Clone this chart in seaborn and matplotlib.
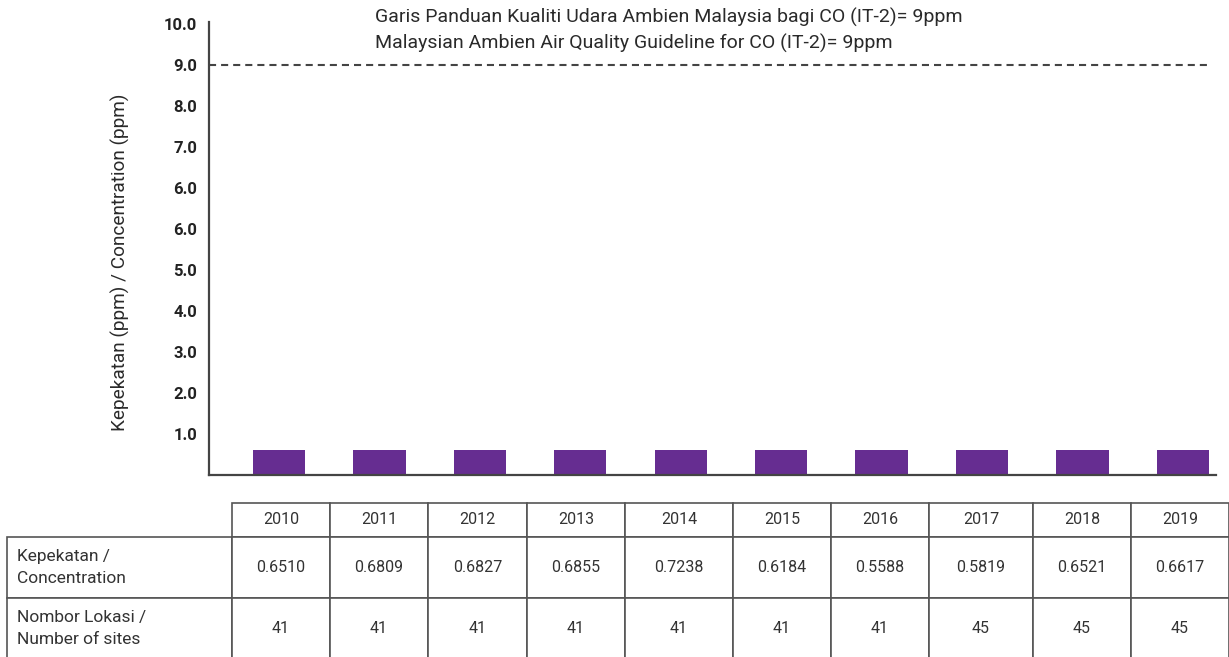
import matplotlib
matplotlib.use("Agg")
import matplotlib.pyplot as plt
import seaborn as sns
import pandas as pd

# ---------------- data ----------------
years = ["2010", "2011", "2012", "2013", "2014", "2015", "2016", "2017", "2018", "2019"]
concentration = ["0.6510", "0.6809", "0.6827", "0.6855", "0.7238",
                 "0.6184", "0.5588", "0.5819", "0.6521", "0.6617"]
sites = ["41", "41", "41", "41", "41", "41", "41", "45", "45", "45"]
# bar heights as drawn in the picture (in tick-position units)
bar_heights = [0.61, 0.61, 0.61, 0.61, 0.61, 0.61, 0.61, 0.61, 0.61, 0.61]
tick_labels = ["1.0", "2.0", "3.0", "4.0", "5.0", "6.0", "6.0", "7.0", "8.0", "9.0", "10.0"]
guideline_pos = 10  # position of the "9.0" tick
guide_text = ["Garis Panduan Kualiti Udara Ambien Malaysia bagi CO (IT-2)= 9ppm",
              "Malaysian Ambien Air Quality Guideline for CO (IT-2)= 9ppm"]
row_labels = ["Kepekatan /\nConcentration", "Nombor Lokasi /\nNumber of sites"]
ylabel = "Kepekatan (ppm) / Concentration (ppm)"

# ---------------- style ----------------
sns.set_theme(style="white")
plt.rcParams["font.family"] = ["Roboto", "DejaVu Sans"]

W, H = 1229, 657
fig = plt.figure(figsize=(W / 100, H / 100), dpi=100)

def fx(px):
    return px / W

def fy(py):
    return 1 - py / H

ax_left, ax_right, ax_top, ax_bot = 209, 1216, 22, 475
ax = fig.add_axes([fx(ax_left), fy(ax_bot), fx(ax_right - ax_left), (ax_bot - ax_top) / H])

df = pd.DataFrame({"year": years, "value": bar_heights})
sns.barplot(data=df, x="year", y="value", color="#662D91", saturation=1,
            width=0.52, linewidth=0, ax=ax)

ax.set_xlim(-0.697, 9.33)
ax.set_ylim(0, (ax_bot - ax_top) / 41.0)
ax.set_yticks(range(1, 12))
ax.set_yticklabels(tick_labels, fontweight="bold", fontsize=12, color="#222222")
ax.tick_params(axis="y", length=0, pad=8.5)
ax.tick_params(axis="x", length=0, labelbottom=False)
ax.set_xlabel("")
ax.set_ylabel("")
for s in ["top", "right"]:
    ax.spines[s].set_visible(False)
for s in ["left", "bottom"]:
    ax.spines[s].set_color("#444444")
    ax.spines[s].set_linewidth(1.6)

ax.axhline(guideline_pos, xmin=0, xmax=(1210 - ax_left) / (ax_right - ax_left),
           color="#444444", lw=1.5, linestyle=(0, (3.4, 2.4)))

fig.text(fx(375), fy(17), guide_text[0], fontsize=14, color="#2a2a2a", va="center", ha="left")
fig.text(fx(375), fy(43), guide_text[1], fontsize=14, color="#2a2a2a", va="center", ha="left")

fig.text(fx(120), fy(262), ylabel, rotation=90, fontsize=13.7, color="#2a2a2a",
         va="center", ha="center")

# ---------------- table ----------------
t_left, t_right, t_top, t_bot = 7, 1229, 503, 659
tax = fig.add_axes([fx(t_left), fy(t_bot), fx(t_right - t_left), (t_bot - t_top) / H])
tax.axis("off")

bounds = [7, 232, 330, 428, 527, 625, 733, 831, 929, 1033, 1131, 1229]
widths = [(bounds[i + 1] - bounds[i]) for i in range(len(bounds) - 1)]
total = sum(widths)
col_w = [w / total for w in widths]

cell_text = [[""] + years,
             [row_labels[0]] + concentration,
             [row_labels[1]] + sites]
tab = tax.table(cellText=cell_text, colWidths=col_w, cellLoc="center",
                bbox=[0, 0, 1, 1])
tab.auto_set_font_size(False)
tab.set_fontsize(11.5)
row_h = [34, 61, 61]
for (r, c), cell in tab.get_celld().items():
    cell.set_height(row_h[r] / sum(row_h))
    cell.set_edgecolor("#555555")
    cell.set_linewidth(1.2)
    cell.get_text().set_color("#333333")
    if c == 0:
        cell.PAD = 0.044
        cell._loc = "left"
        cell.get_text().set_ha("left")
        cell.get_text().set_fontsize(12.5)
        cell.get_text().set_linespacing(1.6)
        if r == 0:
            cell.visible_edges = ""

fig.savefig("out.png", dpi=100)
